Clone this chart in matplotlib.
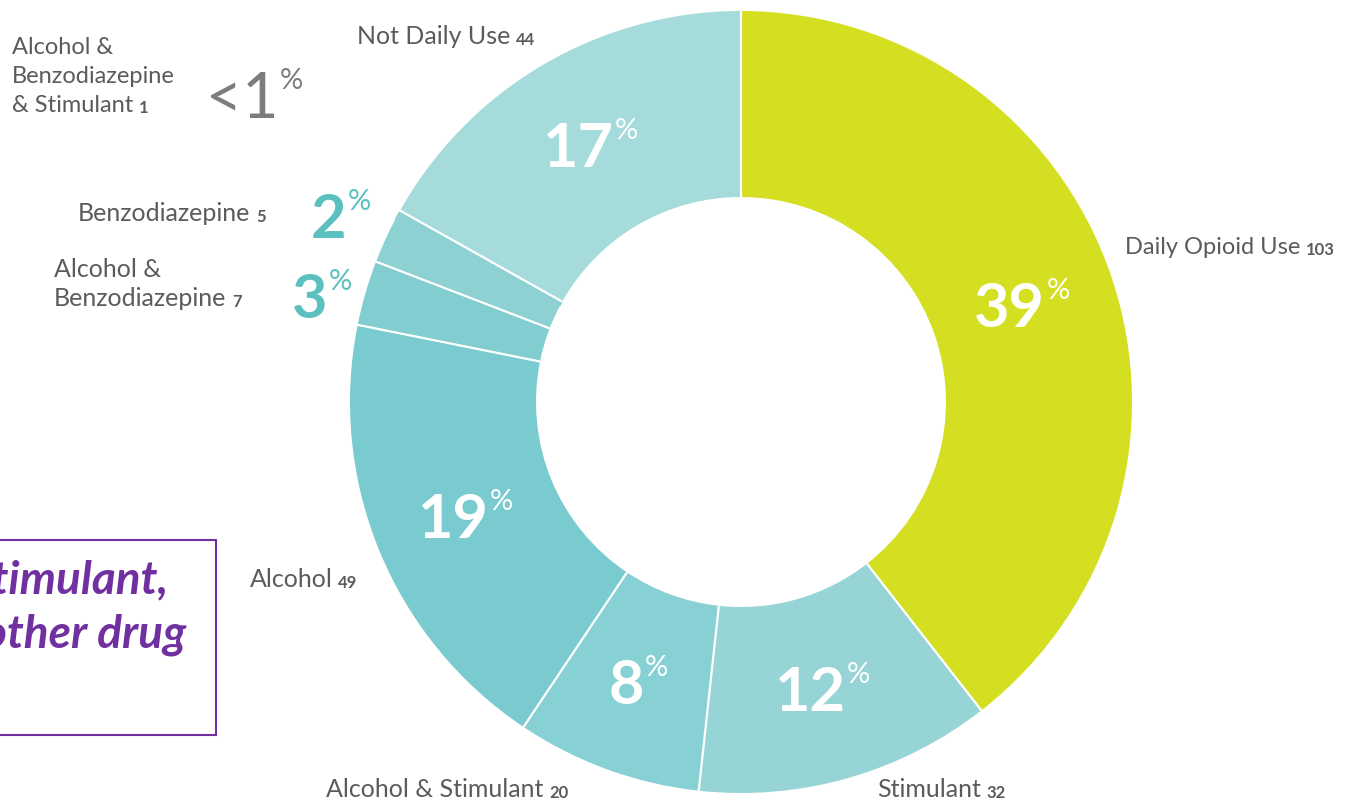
import matplotlib.pyplot as plt
from matplotlib.patches import Rectangle
import numpy as np

plt.rcParams['font.family'] = ['Lato', 'DejaVu Sans']

# data, clockwise from 12 o'clock
labels = ['Daily Opioid Use', 'Stimulant', 'Alcohol & Stimulant', 'Alcohol',
          'Alcohol &\nBenzodiazepine', 'Benzodiazepine',
          'Alcohol &\nBenzodiazepine\n& Stimulant', 'Not Daily Use']
counts = [103, 32, 20, 49, 7, 5, 1, 44]
pct_labels = ['39', '12', '8', '19', '3', '2', '<1', '17']
colors = ['#d5df22', '#97d4d6', '#87d0d3', '#79cbcf',
          '#82cdd0', '#8dd1d3', '#8dd1d3', '#a5dbda']
note_lines = ['Stimulant,', 'other drug']

W, H = 1361, 800
GRAY = '#5a5b5d'

fig = plt.figure(figsize=(W / 100, H / 100), dpi=100)
ax = fig.add_axes([0, 0, 1, 1])

cx, cy = 741, H - 402
r_out, r_in = 391, 205

wedges, _ = ax.pie(counts, colors=colors, startangle=90, counterclock=False,
                   center=(cx, cy), radius=r_out,
                   wedgeprops=dict(width=r_out - r_in, linewidth=0))
# hide the seam between the two smallest slices
wedges[6].set_edgecolor(colors[6])
wedges[6].set_linewidth(0.8)
ax.set_xlim(0, W)
ax.set_ylim(0, H)
ax.set_aspect('equal')
ax.axis('off')

# white separators between slices (none between the two tiny ones)
total = sum(counts)
cum = np.cumsum(counts)
for k in range(len(counts)):
    if k == 5:
        continue
    th = np.deg2rad(90 - 360 * cum[k] / total)
    ax.plot([cx + r_in * np.cos(th), cx + (r_out + 2) * np.cos(th)],
            [cy + r_in * np.sin(th), cy + (r_out + 2) * np.sin(th)],
            color='white', linewidth=1.6, solid_capstyle='butt')


def pct_text(x, y, num, color, size, psize, ha='center', dx=0, weight='bold'):
    t = ax.text(x + dx, y, num, ha=ha, va='baseline', fontsize=size, color=color,
                fontweight=weight)
    ax.annotate('%', xy=(1, 1), xycoords=t, xytext=(1, 2), textcoords='offset points',
                ha='left', va='top', fontsize=psize, color=color)


# percentages inside the ring
inside = [0, 1, 2, 3, 7]
mids = np.deg2rad(90 - 360 * (cum - np.array(counts) / 2) / total)
r_mid = (r_out + r_in) / 2
for i in inside:
    x = cx + r_mid * np.cos(mids[i])
    y = cy + r_mid * np.sin(mids[i]) - 22
    pct_text(x, y, pct_labels[i], 'white', 44, 21, dx=-13)

# small slices: percentages outside
pct_text(311, H - 238, pct_labels[5], '#5cc0c1', 44, 21, ha='left')
pct_text(292, H - 318, pct_labels[4], '#5cc0c1', 44, 21, ha='left')
pct_text(206, H - 118, pct_labels[6], '#7d7d7f', 45, 21, ha='left', weight='normal')


def side_label(x, y, i, gap=29, size=18):
    lines = labels[i].split('\n')
    t = None
    for k, line in enumerate(lines):
        t = ax.text(x, H - (y + k * gap), line, ha='left', va='baseline',
                    fontsize=size, color=GRAY)
    ax.annotate(str(counts[i]), xy=(1, 0), xycoords=t, xytext=(4, 0),
                textcoords='offset points', ha='left', va='bottom',
                fontsize=12, fontweight='bold', color=GRAY)


side_label(1125, 254, 0, size=17)
side_label(877, 797, 1)
side_label(326, 797, 2)
side_label(250, 587, 3)
side_label(54, 277, 4)
side_label(78, 221, 5)
side_label(12, 54, 6, size=17)
side_label(357, 44, 7)

# purple note box, cut off at the left edge
ax.add_patch(Rectangle((-5, H - 735), 221, 195, fill=False,
                       edgecolor='#7030a0', linewidth=1.5, clip_on=False))
ax.text(168, H - 593, note_lines[0], ha='right', va='baseline', fontsize=33,
        fontweight='bold', fontstyle='italic', color='#7030a0')
ax.text(186, H - 648, note_lines[1], ha='right', va='baseline', fontsize=33,
        fontweight='bold', fontstyle='italic', color='#7030a0')

fig.savefig('out.png', dpi=100, facecolor='white')
